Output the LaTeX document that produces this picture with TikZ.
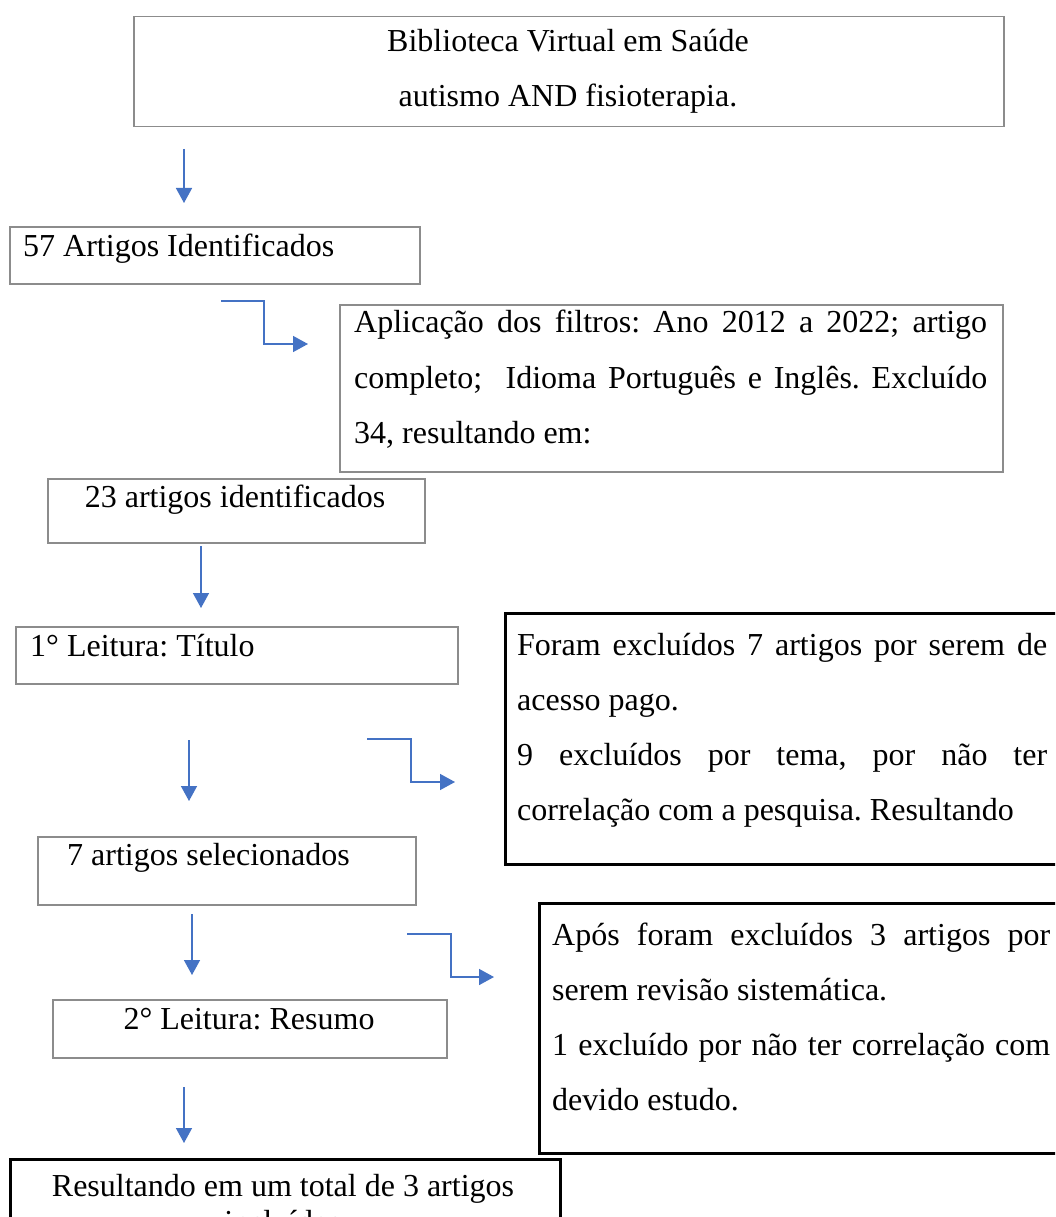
\documentclass[tikz,border=0pt]{standalone}
\usepackage{fontspec}
\setmainfont{Liberation Serif}
\usetikzlibrary{arrows.meta}
\definecolor{arrowblue}{HTML}{4472C4}
\definecolor{boxgray}{RGB}{140,140,140}
\frenchspacing
\begin{document}
\begin{tikzpicture}[x=1pt,y=-1pt,
  graybox/.style={draw=boxgray, line width=1.5pt, inner sep=0pt, anchor=north west},
  blackbox/.style={draw=black, line width=3pt, inner sep=0pt, anchor=north west},
  txt/.style={inner sep=0pt, font=\fontsize{32pt}{38pt}\selectfont},
  flowarrow/.style={draw=arrowblue, line width=1.5pt, -{Triangle[length=15pt,width=16pt]}}
]
\useasboundingbox (0,0) rectangle (1055,1217);
\fill[white] (0,0) rectangle (1055,1217);
\clip (0,0) rectangle (1055,1217);

% boxes
\node[graybox, minimum width=870pt, minimum height=110pt] (b1) at (133,16) {};
\node[graybox, minimum width=410pt, minimum height=57pt] (b2) at (9,226) {};
\node[graybox, minimum width=663pt, minimum height=167pt] (b3) at (339,304) {};
\node[graybox, minimum width=377pt, minimum height=64pt] (b4) at (47,478) {};
\node[graybox, minimum width=442pt, minimum height=57pt] (b5) at (15,626) {};
\node[blackbox, minimum width=580pt, minimum height=251pt] (b6) at (504,612) {};
\node[graybox, minimum width=378pt, minimum height=68pt] (b7) at (37,836) {};
\node[graybox, minimum width=394pt, minimum height=58pt] (b8) at (52,999) {};
\node[blackbox, minimum width=540pt, minimum height=250pt] (b9) at (538,902) {};
\node[blackbox, minimum width=550pt, minimum height=110pt] (b10) at (9,1158) {};

% texts
\node[txt, anchor=base] (t1a) at (568,52) {Biblioteca Virtual em Saúde};
\node[txt, anchor=base] (t1b) at (568,107) {autismo AND fisioterapia.};
\node[txt, anchor=base west] (t2) at (23,256) {57 Artigos Identificados};
\node[txt, anchor=base west] (t3a) at (354,332) {\makebox[633pt][s]{Aplicação dos filtros: Ano 2012 a 2022; artigo}};
\node[txt, anchor=base west] (t3b) at (354,388) {\makebox[633pt][s]{completo;\ \ Idioma Português e Inglês. Excluído}};
\node[txt, anchor=base west] (t3c) at (354,443) {34, resultando em:};
\node[txt, anchor=base] (t4) at (235,507) {23 artigos identificados};
\node[txt, anchor=base west] (t5) at (30,656) {1° Leitura: Título};
\node[txt, anchor=base west] (t6a) at (517,655) {\makebox[530pt][s]{Foram excluídos 7 artigos por serem de}};
\node[txt, anchor=base west] (t6b) at (517,710) {acesso pago.};
\node[txt, anchor=base west] (t6c) at (517,765) {\makebox[530pt][s]{9 excluídos por tema, por não ter}};
\node[txt, anchor=base west] (t6d) at (517,820) {correlação com a pesquisa. Resultando};
\node[txt, anchor=base west] (t7) at (67,865) {7 artigos selecionados};
\node[txt, anchor=base] (t8) at (249,1029) {2° Leitura: Resumo};
\node[txt, anchor=base west] (t9a) at (552,945) {\makebox[498pt][s]{Após foram excluídos 3 artigos por}};
\node[txt, anchor=base west] (t9b) at (552,1000) {serem revisão sistemática.};
\node[txt, anchor=base west] (t9c) at (552,1055) {\makebox[498pt][s]{1 excluído por não ter correlação com}};
\node[txt, anchor=base west] (t9d) at (552,1110) {devido estudo.};
\node[txt, anchor=base] (t10a) at (283,1196) {Resultando em um total de 3 artigos};
\node[txt, anchor=base] (t10b) at (283,1232) {incluídos};

% arrow end points
\coordinate (a1s) at (184,149);  \coordinate (a1e) at (184,203);
\coordinate (a2s) at (201,546);  \coordinate (a2e) at (201,608);
\coordinate (a3s) at (189,740);  \coordinate (a3e) at (189,801);
\coordinate (a4s) at (192,914);  \coordinate (a4e) at (192,975);
\coordinate (a5s) at (184,1087); \coordinate (a5e) at (184,1143);
\coordinate (e1s) at (221,301);  \coordinate (e1e) at (308,344);
\coordinate (e2s) at (367,739);  \coordinate (e2e) at (455,782);
\coordinate (e3s) at (407,934);  \coordinate (e3e) at (494,977);

\draw[flowarrow] (a1s) -- (a1e);
\draw[flowarrow] (a2s) -- (a2e);
\draw[flowarrow] (a3s) -- (a3e);
\draw[flowarrow] (a4s) -- (a4e);
\draw[flowarrow] (a5s) -- (a5e);
\draw[flowarrow] (e1s) -- (264,301) -- (264,344) -- (e1e);
\draw[flowarrow] (e2s) -- (411,739) -- (411,782) -- (e2e);
\draw[flowarrow] (e3s) -- (451,934) -- (451,977) -- (e3e);
\end{tikzpicture}
\end{document}
